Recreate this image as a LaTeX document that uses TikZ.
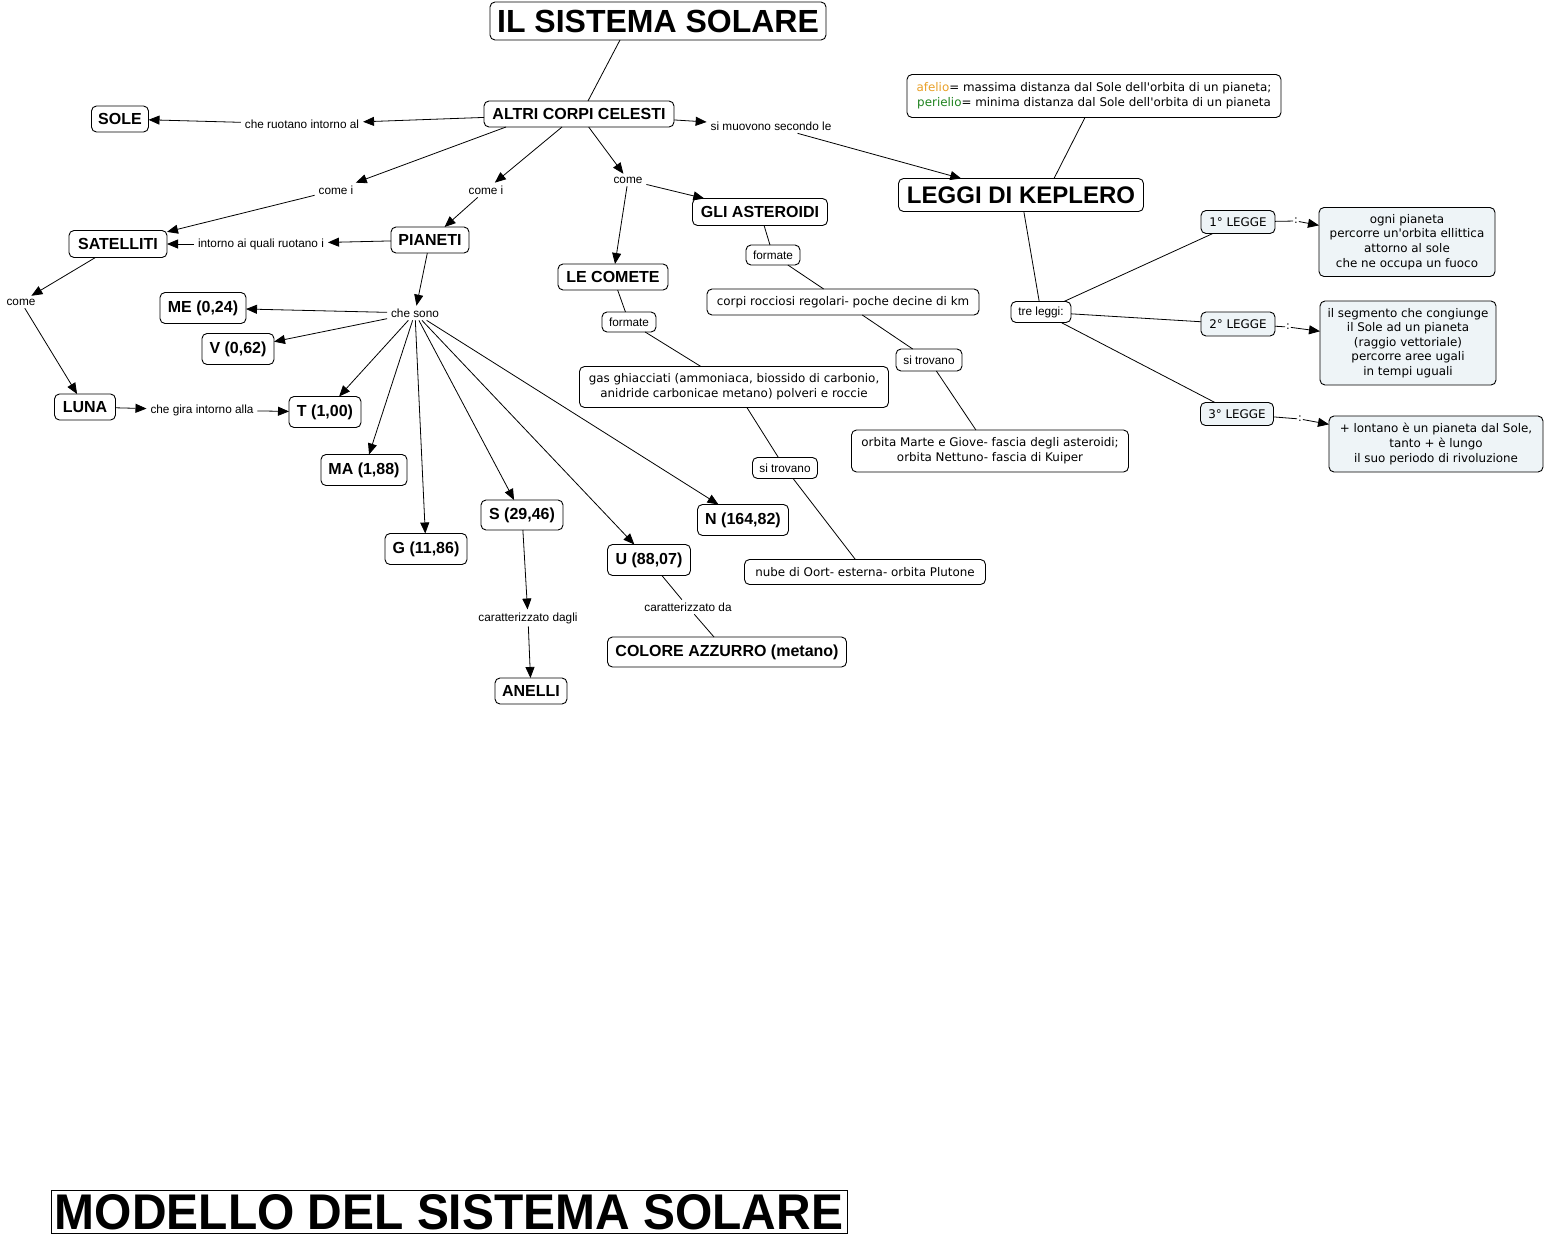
\documentclass[tikz,border=0pt]{standalone}
\usepackage{fontspec}
\setmainfont{Liberation Sans}
\newfontfamily\vfont{DejaVu Sans}
\usetikzlibrary{arrows.meta}
\definecolor{lblue}{RGB}{238,244,247}
\definecolor{aforange}{RGB}{232,160,40}
\definecolor{pgreen}{RGB}{30,130,30}
\begin{document}
\begin{tikzpicture}[x=1pt,y=-1pt,
 every node/.style={inner sep=0pt, outer sep=0pt, align=center},
 sz/.style 2 args={minimum width=#1pt, minimum height=#2pt},
 concept/.style={draw, rounded corners=5pt, line width=0.9pt, font=\fontsize{16}{18}\selectfont\bfseries},
 vbox/.style={draw, rounded corners=5pt, line width=0.9pt, font=\vfont\fontsize{11.9}{14.6}\selectfont},
 smallbox/.style={draw, rounded corners=5pt, line width=0.9pt, font=\fontsize{11.8}{13}\selectfont},
 lp/.style={inner xsep=4pt, inner ysep=3pt, font=\fontsize{11.8}{13}\selectfont},
 colon/.style={inner sep=1pt, font=\vfont\fontsize{11}{13}\selectfont},
 arr/.style={line width=0.8pt, -{Triangle[length=11pt,width=9pt]}},
 ln/.style={line width=0.8pt},
]
\useasboundingbox (0,0) rectangle (1545,1237);

% concepts
\node[concept, sz={336}{38}, font=\fontsize{32}{34}\selectfont\bfseries] (title) at (658,21) {IL SISTEMA SOLARE};
\node[concept, sz={190}{26}] (altri) at (579,114) {ALTRI CORPI CELESTI};
\node[concept, sz={57}{26}] (sole) at (120,119) {SOLE};
\node[vbox, sz={374}{43}] (afelio) at (1094,96) {{\color{aforange}afelio}= massima distanza dal Sole dell'orbita di un pianeta;\\{\color{pgreen}perielio}= minima distanza dal Sole dell'orbita di un pianeta};
\node[concept, sz={245}{33}, font=\fontsize{24}{27}\selectfont\bfseries] (leggi) at (1021,195) {LEGGI DI KEPLERO};
\node[concept, sz={98}{27}] (satelliti) at (118,244) {SATELLITI};
\node[concept, sz={78}{26}] (pianeti) at (430,240) {PIANETI};
\node[concept, sz={135}{27}] (asteroidi) at (760,212) {GLI ASTEROIDI};
\node[concept, sz={110}{26}] (comete) at (613,277) {LE COMETE};
\node[smallbox, sz={54}{20}] (f1) at (773,255) {formate};
\node[smallbox, sz={54}{20}] (f2) at (629,322) {formate};
\node[vbox, sz={272}{26}] (corpi) at (843,302) {corpi rocciosi regolari- poche decine di km};
\node[smallbox, sz={66}{22}] (st1) at (929,360) {si trovano};
\node[vbox, sz={277}{42}] (orbita) at (990,451) {orbita Marte e Giove- fascia degli asteroidi;\\orbita Nettuno- fascia di Kuiper};
\node[vbox, sz={309}{41}] (gas) at (734,387) {gas ghiacciati (ammoniaca, biossido di carbonio,\\anidride carbonicae metano) polveri e roccie};
\node[smallbox, sz={65}{21}] (st2) at (785,468) {si trovano};
\node[vbox, sz={241}{25}] (nube) at (865,572) {nube di Oort- esterna- orbita Plutone};
\node[concept, sz={61}{26}] (luna) at (85,407) {LUNA};
\node[concept, sz={72}{31}] (t) at (325,412) {T (1,00)};
\node[concept, sz={86}{31}] (me) at (203,308) {ME (0,24)};
\node[concept, sz={72}{31}] (v) at (238,349) {V (0,62)};
\node[concept, sz={86}{31}] (ma) at (364,470) {MA (1,88)};
\node[concept, sz={82}{31}] (g) at (426,549) {G (11,86)};
\node[concept, sz={82}{30}] (s) at (522,515) {S (29,46)};
\node[concept, sz={83}{31}] (u) at (649,560) {U (88,07)};
\node[concept, sz={91}{31}] (n) at (743,520) {N (164,82)};
\node[concept, sz={72}{26}] (anelli) at (531,691) {ANELLI};
\node[concept, sz={239}{30}] (colore) at (727,652) {COLORE AZZURRO (metano)};
\node[smallbox, sz={60}{21}] (tre) at (1041,312) {tre leggi:};
\node[vbox, fill=lblue, sz={74}{23}] (l1) at (1238,222) {1° LEGGE};
\node[vbox, fill=lblue, sz={74}{24}] (l2) at (1238,324) {2° LEGGE};
\node[vbox, fill=lblue, sz={73}{23}] (l3) at (1237,414) {3° LEGGE};
\node[vbox, fill=lblue, sz={176}{69}] (b1) at (1407,242) {ogni pianeta\\percorre un'orbita ellittica\\attorno al sole\\che ne occupa un fuoco};
\node[vbox, fill=lblue, sz={176}{84}] (b2) at (1408,343) {il segmento che congiunge\\il Sole ad un pianeta\\(raggio vettoriale)\\percorre aree ugali\\in tempi uguali};
\node[vbox, fill=lblue, sz={214}{56}] (b3) at (1436,444) {+ lontano è un pianeta dal Sole,\\tanto + è lungo\\il suo periodo di rivoluzione};
\node[draw, line width=1pt, sz={796}{43}] (modello) at (449,1212) {\resizebox{788pt}{35pt}{\bfseries MODELLO DEL SISTEMA SOLARE}};

% linking phrases
\node[lp] (lcr) at (302,124) {che ruotano intorno al};
\node[lp] (lsm) at (771,126) {si muovono secondo le};
\node[lp] (lci1) at (336,190) {come i};
\node[lp] (lci2) at (486,190) {come i};
\node[lp] (lco) at (628,180) {come};
\node[lp] (liq) at (261,244) {intorno ai quali ruotano i};
\node[lp] (lcs) at (415,313) {che sono};
\node[lp] (lcome) at (21,302) {come};
\node[lp] (lcg) at (202,410) {che gira intorno alla};
\node[lp] (lcd) at (528,618) {caratterizzato dagli};
\node[lp] (lcda) at (688,607) {caratterizzato da};
\node[colon] (c1) at (1296,221) {:};
\node[colon] (c2) at (1288,327) {:};
\node[colon] (c3) at (1300,419) {:};

% connectors
\draw[ln] ([xshift=-38pt]title.south) -- ([xshift=9pt]altri.north);
\draw[arr] (altri) -- (lcr);
\draw[arr] (lcr) -- (sole);
\draw[arr] (altri) -- (lsm);
\draw[arr] (lsm) -- (leggi);
\draw[ln] ([xshift=-9pt]afelio.south) -- ([xshift=33pt]leggi.north);
\draw[arr] ([xshift=-73pt]altri.south) -- (lci1);
\draw[arr] (lci1) -- (satelliti);
\draw[arr] ([xshift=-17pt]altri.south) -- (lci2);
\draw[arr] (lci2) -- (pianeti);
\draw[arr] (altri) -- (lco);
\draw[arr] (lco) -- (asteroidi);
\draw[arr] (lco) -- (comete);
\draw[arr] (pianeti) -- (liq);
\draw[arr] (liq) -- (satelliti);
\draw[arr] (pianeti) -- (lcs);
\draw[arr] (lcs) -- (me);
\draw[arr] (lcs) -- (v);
\draw[arr] (lcs) -- (t);
\draw[arr] (lcs) -- (ma);
\draw[arr] (lcs) -- (g);
\draw[arr] (lcs) -- (s);
\draw[arr] (lcs) -- (u);
\draw[arr] (lcs) -- (n);
\draw[arr] (satelliti) -- (lcome);
\draw[arr] (lcome) -- (luna);
\draw[arr] (luna) -- (lcg);
\draw[arr] (lcg) -- (t);
\draw[arr] (s) -- (lcd);
\draw[arr] (lcd) -- (anelli);
\draw[ln] (u) -- (lcda);
\draw[ln] (lcda) -- (colore);
\draw[ln] (asteroidi) -- (f1);
\draw[ln] (f1) -- (corpi);
\draw[ln] (corpi) -- (st1);
\draw[ln] (st1) -- (orbita);
\draw[ln] (comete) -- (f2);
\draw[ln] (f2) -- (gas);
\draw[ln] (gas) -- (st2);
\draw[ln] (st2) -- (nube);
\draw[ln] (leggi) -- (tre);
\draw[ln] (tre) -- (l1);
\draw[ln] (tre) -- (l2);
\draw[ln] (tre) -- (l3);
\draw[ln] (l1) -- (c1);
\draw[arr] (c1) -- (b1);
\draw[ln] (l2) -- (c2);
\draw[arr] (c2) -- (b2);
\draw[ln] (l3) -- (c3);
\draw[arr] (c3) -- (b3);
\end{tikzpicture}
\end{document}
